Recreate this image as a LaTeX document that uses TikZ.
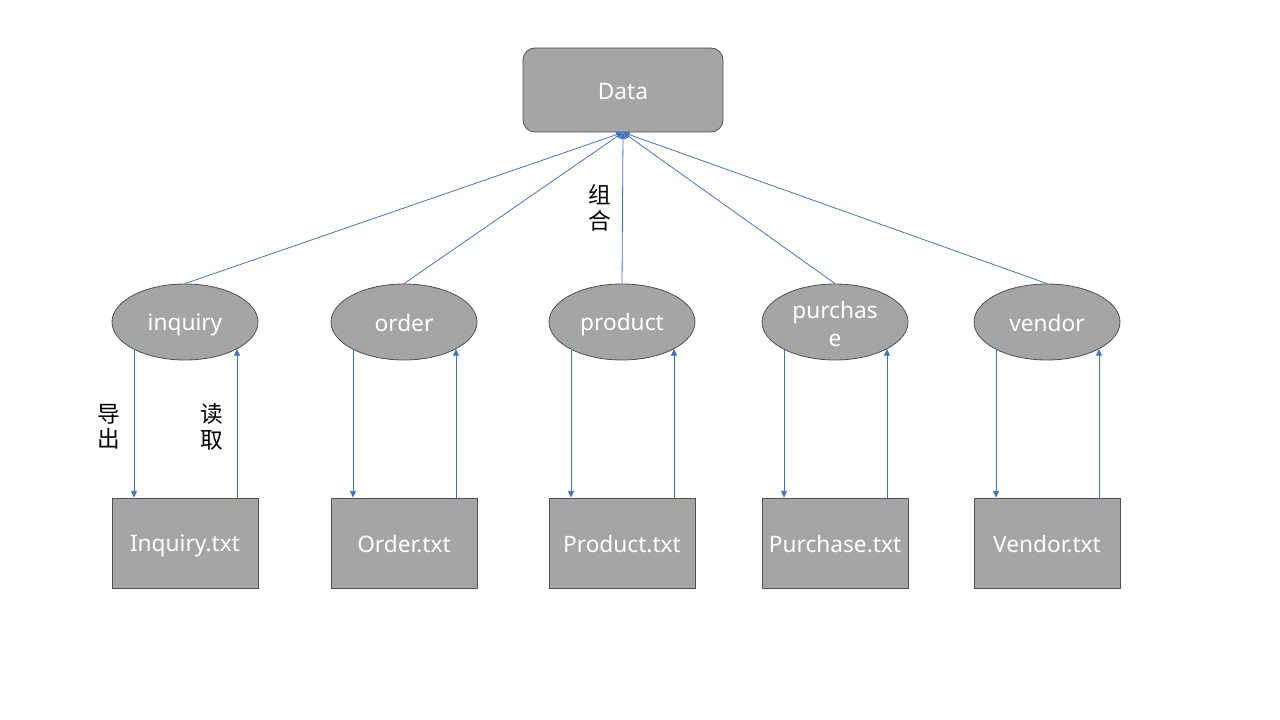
\documentclass[tikz,border=0pt]{standalone}
\usepackage{fontspec}
\setmainfont{Noto Sans}
\newfontfamily\cjk{Noto Sans CJK SC}
\usetikzlibrary{shapes.geometric,arrows.meta}

\definecolor{boxgray}{HTML}{A5A5A5}
\definecolor{edgegray}{HTML}{505050}
\definecolor{linkblue}{HTML}{4472C4}

\newcommand\labelstrut{\rule[-2pt]{0pt}{18.5pt}}

\tikzset{
  table/.style={
    ellipse, fill=boxgray, draw=edgegray, line width=.6pt,
    minimum width=109.5pt, minimum height=57pt, inner sep=0pt,
    text=white, align=center, font=\fontsize{17}{21}\selectfont,
  },
  file/.style={
    rectangle, fill=boxgray, draw=edgegray, line width=.6pt,
    minimum width=109.5pt, minimum height=67.5pt, inner sep=0pt,
    text=white, font=\fontsize{17}{21}\selectfont,
  },
  link/.style={
    draw=linkblue, line width=.6pt,
    -{Triangle[width=4.5pt,length=5pt]},
  },
  note/.style={
    align=center, inner sep=0pt, font=\cjk\fontsize{17}{19}\selectfont,
  },
}

\begin{document}
\begin{tikzpicture}[x=.75pt,y=-.75pt]

\useasboundingbox (0,0) rectangle (1280,720);

\node[
  rectangle, rounded corners=9pt,
  fill=boxgray, draw=edgegray, line width=.6pt,
  minimum width=150pt, minimum height=63pt,
  text=white, font=\fontsize{17}{21}\selectfont,
] (data) at (623,90) {\labelstrut Data};

\foreach \name/\x/\label/\fname in {
  inquiry/185/inquiry/Inquiry.txt,
  order/404/order/Order.txt,
  product/622/product/Product.txt,
  purchase/835/{purchas\\e}/Purchase.txt,
  vendor/1047/vendor/Vendor.txt%
}{
  \node[table] (\name) at (\x,322) {\labelstrut\label};
  \node[file] (\name-file) at (\x,543) {\labelstrut\fname};

  \coordinate (\name-out) at ([shift={(-51,27)}]\name.center);
  \coordinate (\name-in) at ([shift={(52,27)}]\name.center);

  \draw[link] (\name.north) -- (data.south);
  \draw[link] (\name-out) -- (\name-out |- \name-file.north);
  \draw[link] (\name-in |- \name-file.north) -- (\name-in);
}

\node[note] (export) at (109,427) {导\\出};
\node[note] (read) at (212,427) {读\\取};
\node[note] (combine) at (600,208) {组\\合};

\end{tikzpicture}
\end{document}
